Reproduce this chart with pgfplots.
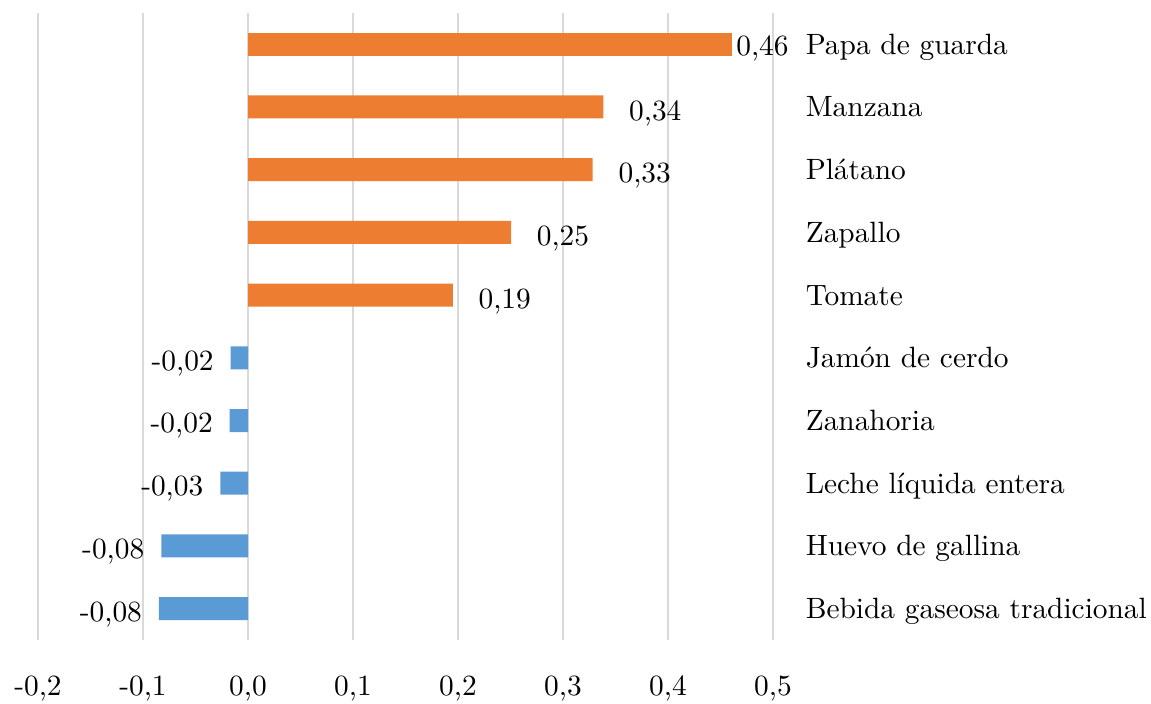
\documentclass[border=0pt]{standalone}
\usepackage{fontspec}
\usepackage{pgfplots}
\pgfplotsset{compat=1.18}
\definecolor{barorange}{HTML}{ED7D31}
\definecolor{barblue}{HTML}{5B9BD5}
\definecolor{gridgray}{HTML}{D9D9D9}
\begin{document}
\begin{tikzpicture}
\begin{axis}[
  scale only axis,
  width=250.27pt, height=213.5pt,
  xmin=-0.2, xmax=0.5,
  ymin=-0.5, ymax=9.5,
  xtick={-0.2,-0.1,0,0.1,0.2,0.3,0.4,0.5},
  xticklabels={{-0,2},{-0,1},{0,0},{0,1},{0,2},{0,3},{0,4},{0,5}},
  xticklabel style={anchor=base, inner sep=0pt, yshift=-18.9pt},
  ytick={0,1,2,3,4,5,6,7,8,9},
  yticklabels={Bebida gaseosa tradicional, Huevo de gallina, Leche líquida entera, Zanahoria, Jamón de cerdo, Tomate, Zapallo, Plátano, Manzana, Papa de guarda},
  yticklabel pos=right,
  yticklabel style={anchor=base west, inner sep=0pt, xshift=6.7pt, yshift=-3.4pt},
  axis line style={draw=none},
  tick style={draw=none},
  xmajorgrids,
  grid style={gridgray, line width=0.7pt},
  xbar, bar width=7.83pt,
  clip=false,
  point meta=explicit symbolic,
]
% Papa de guarda
\addplot[fill=barorange, draw=none, bar shift=0pt,
  nodes near coords,
  nodes near coords style={anchor=base west, inner sep=0pt, xshift=1.4pt, yshift=-3.9pt, text=black}]
  table[meta=lab] {
x y lab
0.4606 9 0,46
};
% other positives
\addplot[fill=barorange, draw=none, bar shift=0pt,
  nodes near coords,
  nodes near coords style={anchor=base west, inner sep=0pt, xshift=8.6pt, yshift=-4.45pt, text=black}]
  table[meta=lab] {
x y lab
0.3384 8 0,34
0.3283 7 0,33
0.2505 6 0,25
0.1950 5 0,19
};
% negatives
\addplot[fill=barblue, draw=none, bar shift=0pt,
  nodes near coords,
  nodes near coords style={anchor=base east, inner sep=0pt, xshift=-5.6pt, yshift=-4.25pt, text=black}]
  table[meta=lab] {
x y lab
-0.0165 4 -0,02
-0.0174 3 -0,02
-0.0264 2 -0,03
-0.0826 1 -0,08
-0.0848 0 -0,08
};
\end{axis}
\path (current axis.south west) ++(-12.94pt,-21.79pt) rectangle ++(391.9pt,239.7pt);
\end{tikzpicture}
\end{document}
